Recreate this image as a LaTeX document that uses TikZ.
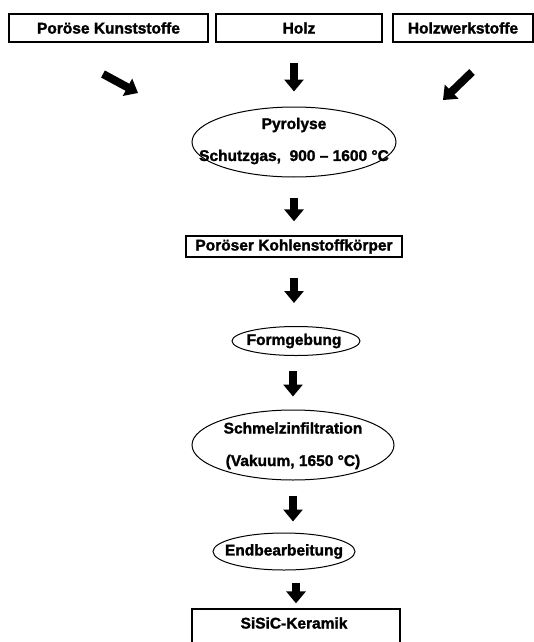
\documentclass[tikz,border=0pt]{standalone}
\usepackage{fontspec}
\setmainfont{Liberation Sans}[BoldFeatures={FakeBold=1.6}]
\usetikzlibrary{shapes.geometric,arrows.meta}
\begin{document}
\begin{tikzpicture}[x=1pt,y=-1pt,
  every node/.style={font=\fontsize{15.5}{18}\selectfont\bfseries},
  stepbox/.style={draw,line width=1.3pt,minimum height=28pt,inner sep=0pt},
  oval/.style={draw,ellipse,line width=1pt,inner sep=0pt},
  label/.style={inner sep=0pt},
  bigarrow/.style={line width=8pt,-{Triangle[width=19pt,length=12pt]}}]
\useasboundingbox (0,0) rectangle (534,642);
\clip (0,0) rectangle (534,642);

% raw materials
\node[stepbox,minimum width=199pt] (kunst) at (108.5,28) {Poröse Kunststoffe};
\node[stepbox,minimum width=166pt] (holz) at (299,28) {Holz};
\node[stepbox,minimum width=140pt] (werk) at (463,28) {Holzwerkstoffe};

% pyrolysis
\node[oval,minimum width=204pt,minimum height=70pt] (pyro) at (294,142) {};
\node[label] at (294,125) {Pyrolyse};
\node[label] at (294,157) {Schutzgas,~~900 – 1600 °C};

% carbon preform
\node[stepbox,minimum width=216pt,minimum height=21pt] (kohle) at (294,246.5) {Poröser Kohlenstoffkörper};

% shaping
\node[oval,minimum width=128pt,minimum height=29pt] (form) at (296,341) {};
\node[label] at (294,341) {Formgebung};

% melt infiltration
\node[oval,minimum width=202pt,minimum height=70pt] (schmelz) at (293,445) {};
\node[label] at (293,428) {Schmelzinfiltration};
\node[label] at (293,462) {(Vakuum, 1650 °C)};

% final machining
\node[oval,minimum width=142pt,minimum height=37pt] (end) at (284,551.5) {};
\node[label] at (284,551.5) {Endbearbeitung};

% product
\node[stepbox,minimum width=208pt,minimum height=60pt] (sisic) at (296,639) {};
\node[label] at (294,623) {SiSiC-Keramik};

% flow arrows
\coordinate (la1) at (103,74);
\coordinate (la2) at (138,93);
\coordinate (ra1) at (472,72);
\coordinate (ra2) at (443,100);
\draw[bigarrow] (la1) -- (la2);
\draw[bigarrow] (ra1) -- (ra2);
\draw[bigarrow,shorten <=20pt,shorten >=15pt] (holz.south -| pyro.north) -- (pyro.north);
\draw[bigarrow,shorten <=20pt,shorten >=14pt] (pyro.south) -- (pyro.south |- kohle.north);
\draw[bigarrow,shorten <=20pt,shorten >=23pt] (kohle.south) -- (kohle.south |- form.north);
\draw[bigarrow,shorten <=15pt,shorten >=13pt] (form.south -| schmelz.north) -- (schmelz.north);
\draw[bigarrow,shorten <=15pt,shorten >=11pt] (schmelz.south) -- (schmelz.south |- end.north);
\draw[bigarrow,shorten <=12pt,shorten >=5pt] (end.south -| sisic.north) -- (sisic.north);
\end{tikzpicture}
\end{document}
